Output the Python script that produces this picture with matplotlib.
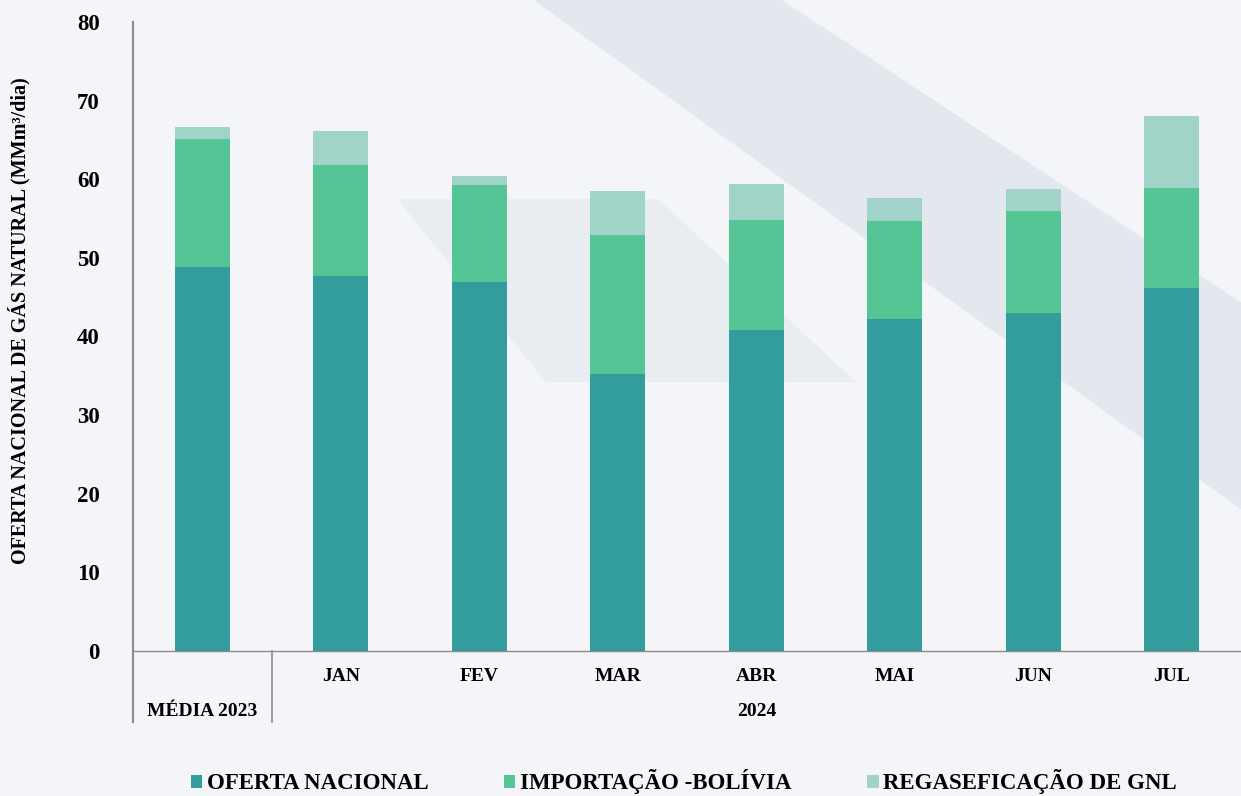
import matplotlib
matplotlib.use("Agg")
import matplotlib.pyplot as plt
from matplotlib.patches import Patch, Polygon

# ---------- Data (MMm³/dia) ----------
categories = ["MÉDIA 2023", "JAN", "FEV", "MAR", "ABR", "MAI", "JUN", "JUL"]
oferta_nacional = [48.8, 47.7, 46.9, 35.2, 40.8, 42.2, 43.0, 46.2]
importacao_bolivia = [16.3, 14.1, 12.4, 17.7, 14.0, 12.5, 13.0, 12.7]
regaseificacao_gnl = [1.5, 4.3, 1.1, 5.6, 4.6, 2.9, 2.8, 9.1]
series_names = ["OFERTA NACIONAL", "IMPORTAÇÃO -BOLÍVIA", "REGASEFICAÇÃO DE GNL"]
year_label = "2024"

colors = ["#339c9c", "#55c596", "#a0d4c8"]
plt.rcParams["font.family"] = ["Liberation Serif", "DejaVu Serif"]

fig = plt.figure(figsize=(12.41, 7.96), dpi=100)
fig.patch.set_facecolor("#f4f5f8")

# ---------- faint background shapes (logo watermark) ----------
bg = fig.add_axes([0, 0, 1, 1], zorder=-1)
bg.set_xlim(0, 1)
bg.set_ylim(0, 1)
bg.axis("off")
bg.add_patch(Polygon([[0.43, 1.0], [0.63, 1.0], [1.0, 0.62], [1.0, 0.36]],
                     closed=True, color="#e3e7ee", lw=0))
bg.add_patch(Polygon([[0.32, 0.75], [0.53, 0.75], [0.69, 0.52], [0.44, 0.52]],
                     closed=True, color="#e9ecf1", lw=0))

ax = fig.add_axes([0.1072, 0.1822, 0.8928, 0.7902], zorder=1)
ax.set_facecolor("none")

x = list(range(len(categories)))
w = 0.4
bottom2 = [a + b for a, b in zip(oferta_nacional, importacao_bolivia)]
ax.bar(x, oferta_nacional, width=w, color=colors[0], zorder=3)
ax.bar(x, importacao_bolivia, width=w, bottom=oferta_nacional, color=colors[1], zorder=3)
ax.bar(x, regaseificacao_gnl, width=w, bottom=bottom2, color=colors[2], zorder=3)

ax.set_xlim(-0.5, len(categories) - 0.5)
ax.set_ylim(0, 80)
ax.set_yticks(range(0, 81, 10))
ax.tick_params(axis="y", length=0, pad=24, labelsize=16.5)
for lbl in ax.get_yticklabels():
    lbl.set_fontweight("bold")
ax.set_xticks([])

for s in ["top", "right"]:
    ax.spines[s].set_visible(False)
ax.spines["left"].set_color("#8c8c8c")
ax.spines["left"].set_linewidth(1.5)
ax.spines["bottom"].set_color("#8c8c8c")
ax.spines["bottom"].set_linewidth(1.0)

ax.set_ylabel("OFERTA NACIONAL DE GÁS NATURAL (MMm³/dia)", fontsize=14.5,
              fontweight="bold")
ax.yaxis.set_label_coords(-0.093, 0.525)

# ---------- category axis with group separators ----------
trans = ax.get_xaxis_transform()
ax.plot([-0.5, -0.5], [0, -0.113], transform=trans, color="#8c8c8c", lw=1.5, clip_on=False)
ax.plot([0.5, 0.5], [0, -0.113], transform=trans, color="#8c8c8c", lw=1.2, clip_on=False)
for i, c in enumerate(categories[1:], start=1):
    ax.text(i, -0.04, c, transform=trans, ha="center", va="center",
            fontsize=14, fontweight="bold")
ax.text(0, -0.096, categories[0], transform=trans, ha="center", va="center",
        fontsize=14, fontweight="bold")
ax.text((1 + len(categories) - 1) / 2, -0.096, year_label, transform=trans,
        ha="center", va="center", fontsize=14, fontweight="bold")

# ---------- legend ----------
handles = [Patch(facecolor=c, edgecolor="none") for c in colors]
fig.legend(handles, series_names, loc="lower left", bbox_to_anchor=(0.137, -0.024),
           ncol=3, frameon=False, handlelength=0.5, handleheight=0.5,
           handletextpad=0.2, columnspacing=3.3,
           prop={"weight": "bold", "size": 16.5})

fig.savefig("out.png", dpi=100, facecolor=fig.get_facecolor())
